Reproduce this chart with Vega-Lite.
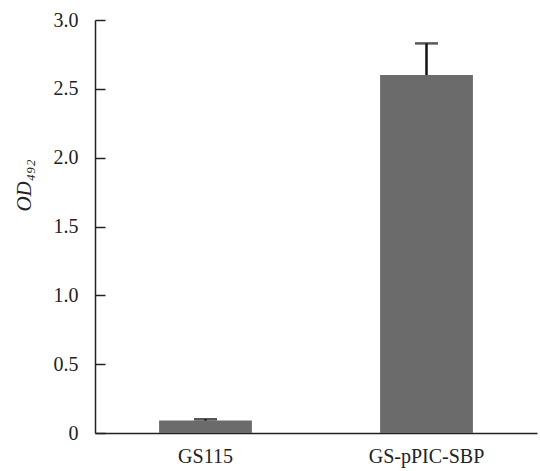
{
  "$schema": "https://vega.github.io/schema/vega-lite/v6.json",
  "width": 442,
  "height": 413,
  "autosize": {"type": "none"},
  "padding": {"left": 95, "top": 20, "right": 3, "bottom": 38},
  "background": "white",
  "config": {
    "view": {"stroke": null},
    "font": "Liberation Serif",
    "axis": {"grid": false, "domainColor": "#222", "tickColor": "#222", "labelColor": "#222", "titleColor": "#222", "domainWidth": 1.5, "tickWidth": 1.5}
  },
  "data": {
    "values": [
      {"strain": "GS115", "od": 0.09, "err": 0.01},
      {"strain": "GS-pPIC-SBP", "od": 2.6, "err": 0.23}
    ]
  },
  "transform": [{"calculate": "datum.od + datum.err", "as": "hi"}],
  "encoding": {
    "x": {
      "field": "strain", "type": "nominal", "sort": null,
      "scale": {"paddingInner": 0.58, "paddingOuter": 0.29},
      "axis": {"title": null, "labelAngle": 0, "ticks": false, "labelFontSize": 20, "labelPadding": 13}
    }
  },
  "layer": [
    {
      "mark": {"type": "bar", "color": "#6b6b6b"},
      "encoding": {
        "y": {
          "field": "od", "type": "quantitative",
          "scale": {"domain": [0, 3]},
          "axis": {
            "values": [0, 0.5, 1, 1.5, 2, 2.5, 3],
            "labelExpr": "datum.value == 0 ? '0' : format(datum.value, '.1f')",
            "tickSize": -10,
            "labelFontSize": 20,
            "labelPadding": 27,
            "title": "OD₄₉₂",
            "titleFontStyle": "italic",
            "titleFontWeight": "normal",
            "titleFontSize": 21,
            "titleX": -61,
            "titleY": 165
          }
        }
      }
    },
    {
      "mark": {"type": "rule", "color": "#111", "strokeWidth": 2.5},
      "encoding": {
        "y": {"field": "od", "type": "quantitative"},
        "y2": {"field": "hi"}
      }
    },
    {
      "mark": {"type": "tick", "color": "#111", "thickness": 2.5, "size": 23, "orient": "horizontal"},
      "encoding": {
        "y": {"field": "hi", "type": "quantitative"}
      }
    }
  ]
}
